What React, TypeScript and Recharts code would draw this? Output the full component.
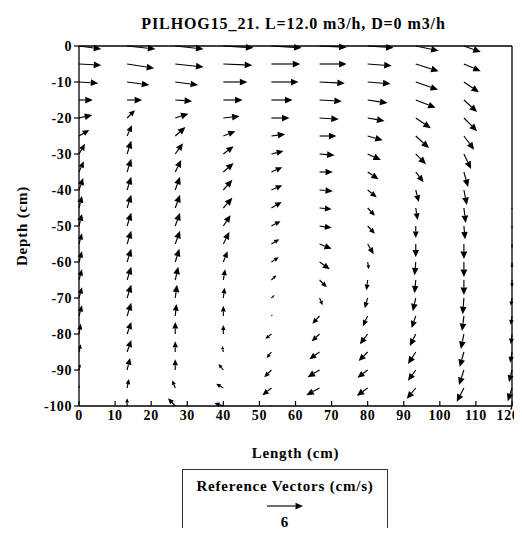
import React from 'react'
import {
  ScatterChart, Scatter, XAxis, YAxis, ReferenceLine, Legend, Label,
} from 'recharts'

// grid of measuring points (cm)
const lengths = [0, 13.33, 26.67, 40, 53.33, 66.67, 80, 93.33, 106.67, 120]
const depths = [0, -5, -10, -15, -20, -25, -30, -35, -40, -45, -50, -55, -60, -65, -70, -75, -80, -85, -90, -95, -100]

// velocity components (cm/s), one array per column, top to bottom
const u0 = [3.7, 3.7, 3.2, 2.3, 2.2, 1.7, 1.0, 0.8, 0.7, 0.5, 0.5, 0.5, 0.5, 0.5, 0.5, 0.5, 0.3, 0.3, 0.2, 0, 0]
const v0 = [-0.5, -0.2, -0.2, 0, 0.5, 1.0, 1.7, 1.8, 2.0, 2.0, 2.0, 1.8, 1.8, 1.8, 1.8, 1.8, 1.7, 1.3, 1.0, 0.5, 0.2]
const u1 = [4.7, 4.5, 3.7, 2.5, 1.3, 0.8, 0.7, 0.7, 0.7, 0.7, 0.7, 0.7, 0.7, 0.7, 0.7, 0.7, 0.7, 0.7, 0.5, 0.3, 0]
const v1 = [-0.5, -0.7, -0.5, 0, 1.3, 1.8, 2.2, 2.2, 2.2, 2.2, 2.2, 2.2, 2.2, 2.2, 2.2, 2.2, 2.0, 2.0, 2.0, 1.5, 1.3]
const u2 = [4.7, 4.7, 3.8, 2.8, 2.2, 1.7, 1.3, 1.0, 0.8, 0.8, 0.8, 0.8, 0.7, 0.5, 0.3, 0.2, 0, 0, 0, -0.5, -1.2]
const v2 = [-0.5, -0.5, -0.5, -0.2, 0.7, 1.5, 1.8, 2.0, 2.2, 2.2, 2.2, 2.2, 2.2, 2.2, 2.2, 2.0, 2.0, 1.8, 1.8, 1.3, 1.3]
const u3 = [5.0, 4.8, 4.0, 3.2, 2.7, 2.0, 1.7, 1.7, 1.5, 1.5, 1.2, 1.0, 0.7, 0.3, 0.2, 0, 0, -0.2, -0.8, -1.2, -1.5]
const v3 = [-0.3, -0.2, 0, 0, 0.3, 0.8, 1.3, 1.5, 1.7, 1.7, 1.8, 2.0, 1.8, 1.8, 1.7, 1.7, 1.5, 1.0, 1.0, 0.7, 0.5]
const u4 = [5.0, 4.8, 4.5, 3.5, 3.0, 2.3, 2.0, 1.8, 1.8, 1.7, 1.5, 1.3, 1.2, 0.8, 0.5, 0.2, -1.0, -0.8, -1.2, -1.5, -0.2]
const v4 = [-0.3, 0, 0, 0, 0, 0.3, 0.5, 0.8, 0.8, 1.0, 0.8, 0.8, 0.8, 0.8, 0.5, 0.2, -0.8, -1.0, -1.2, -1.2, 0]
const u5 = [4.5, 4.5, 4.2, 3.7, 3.2, 2.8, 2.5, 2.2, 2.2, 2.0, 2.0, 2.0, 1.7, 1.2, 0.5, -1.2, -1.3, -1.7, -2.0, -2.2, 0]
const v5 = [-0.2, 0, -0.2, -0.2, -0.2, 0, -0.2, 0, -0.2, -0.2, -0.3, -0.8, -1.2, -1.2, -1.2, -1.3, -1.2, -1.2, -1.2, -1.2, 0]
const u6 = [4.3, 4.0, 3.8, 3.3, 2.8, 2.5, 2.2, 1.8, 1.5, 1.2, 1.2, 1.0, 0.2, -0.2, -0.5, -0.8, -1.3, -1.5, -1.7, -1.8, 0]
const v6 = [-0.3, -0.3, -0.3, -0.5, -0.5, -0.7, -1.0, -1.2, -1.2, -1.3, -1.3, -1.7, -1.2, -1.7, -1.7, -1.7, -1.7, -1.5, -1.3, -1.3, 0]
const u7 = [3.8, 3.8, 3.7, 3.3, 2.5, 2.2, 1.7, 1.3, 0.5, 0.3, 0, 0, -0.2, -0.2, -0.5, -0.7, -1.0, -1.3, -1.3, -1.5, 0]
const v7 = [-0.8, -1.2, -1.3, -1.3, -1.7, -2.0, -1.7, -1.7, -2.0, -2.0, -2.0, -2.2, -2.2, -2.2, -2.2, -2.0, -2.0, -2.0, -1.8, -1.8, 0]
const u8 = [2.8, 2.8, 2.5, 2.2, 2.2, 1.7, 1.2, 0.7, 0.5, 0.3, 0.2, 0, 0, 0, -0.2, -0.3, -0.5, -0.7, -0.8, -1.2, 0]
const v8 = [-1.0, -1.2, -1.7, -2.0, -2.2, -2.3, -2.5, -2.5, -2.5, -2.5, -2.2, -2.5, -2.5, -2.5, -2.7, -2.5, -2.5, -2.5, -2.5, -2.3, 0]
const u9 = [0, 0, 0, 0, 0, 0, 0, 0, 0, 0, 0, 0, 0, 0, -0.2, -0.2, -0.2, -0.3, -0.5, -0.7, -0.2]
const v9 = [0, 0, 0, 0, 0, 0, 0, 0, 0, -0.3, -0.5, -0.7, -1.0, -1.2, -1.3, -1.5, -1.7, -1.8, -2.0, -2.2, -0.7]

const xTicks = [0, 10, 20, 30, 40, 50, 60, 70, 80, 90, 100, 110, 120]
const yTicks = [0, -10, -20, -30, -40, -50, -60, -70, -80, -90, -100]

const refSpeed = 6 // cm/s shown in the key
const cmPerSpeed = 10 / refSpeed // plot length (cm) drawn for 1 cm/s

const uCols = [u0, u1, u2, u3, u4, u5, u6, u7, u8, u9]
const vCols = [v0, v1, v2, v3, v4, v5, v6, v7, v8, v9]

const vectors = lengths
  .flatMap((x, i) => depths.map((y, j) => ({ x, y, u: uCols[i][j], v: vCols[i][j] })))
  .filter(d => d.u !== 0 || d.v !== 0)

const FONT = "'Liberation Serif', 'Times New Roman', serif"
const txt = { fontFamily: FONT, fontWeight: 'bold' as const, fill: '#000' }

function arrowParts(x1: number, y1: number, x2: number, y2: number) {
  const dx = x2 - x1
  const dy = y2 - y1
  const len = Math.hypot(dx, dy)
  if (len < 0.5) return null
  const ux = dx / len
  const uy = dy / len
  const hl = Math.min(7.5, len * 0.55)
  const hw = hl * 0.45
  const bx = x2 - ux * hl
  const by = y2 - uy * hl
  return (
    <g>
      <line x1={x1} y1={y1} x2={bx} y2={by} stroke="#000" strokeWidth={1.15} />
      <polygon
        points={`${x2},${y2} ${bx - uy * hw},${by + ux * hw} ${bx + uy * hw},${by - ux * hw}`}
        fill="#000"
      />
    </g>
  )
}

const ArrowShape = (props: any) => arrowParts(props.x1, props.y1, props.x2, props.y2)

const LeftTick = ({ x, y, payload }: any) => (
  <text x={x} y={y} dy={5} textAnchor="end" fontSize={14} letterSpacing={0.6} {...txt}>
    {payload.value}
  </text>
)

const BottomTick = ({ x, y, payload }: any) => (
  <g>
    <line x1={x} x2={x} y1={y} y2={y - 5} stroke="#000" strokeWidth={1.2} />
    <text
      x={x} y={y + 14} dx={payload.value === 120 ? -4 : 0}
      textAnchor="middle" fontSize={14} letterSpacing={0.6} {...txt}
    >
      {payload.value}
    </text>
  </g>
)

const TopTick = ({ x, y }: any) => (
  <line x1={x} x2={x} y1={y} y2={y - 5} stroke="#000" strokeWidth={1.2} />
)

const RightTick = ({ x, y }: any) => (
  <line x1={x} x2={x - 6} y1={y} y2={y} stroke="#000" strokeWidth={1.2} />
)

const NoDot = () => <g />

const VectorKey = () => (
  <div
    style={{
      width: 206, height: 90, border: '1px solid #333', boxSizing: 'border-box',
      fontFamily: FONT, fontWeight: 'bold', fontSize: 15, letterSpacing: 0.8,
      textAlign: 'center', color: '#000', paddingTop: 8,
    }}
  >
    <div>Reference Vectors (cm/s)</div>
    <svg width={40} height={12} style={{ display: 'block', margin: '5px auto 0' }}>
      {arrowParts(2, 6, 38, 6)}
    </svg>
    <div style={{ marginTop: 2 }}>{refSpeed}</div>
  </div>
)

export default function App() {
  return (
    <div style={{ width: 514, height: 528, overflow: 'hidden', marginBottom: -8, marginRight: -8 }}>
      <ScatterChart
        width={514}
        height={528}
        margin={{ top: 30, right: 6, bottom: 100, left: 21 }}
      >
        <XAxis
          type="number" dataKey="x" domain={[0, 120]} ticks={xTicks} interval={0}
          height={30} tickSize={0} tickMargin={0} tickLine={false}
          axisLine={{ stroke: '#000', strokeWidth: 1.3 }} tick={<BottomTick />}
        >
          <Label
            content={({ viewBox }: any) => (
              <text
                x={viewBox.x + viewBox.width / 2} y={viewBox.y + 52}
                textAnchor="middle" fontSize={15} letterSpacing={0.8} {...txt}
              >
                Length (cm)
              </text>
            )}
          />
        </XAxis>
        <XAxis
          xAxisId="top" orientation="top" type="number" domain={[0, 120]} ticks={xTicks} interval={0}
          height={8} tickSize={0} tickMargin={0} tickLine={false}
          axisLine={{ stroke: '#000', strokeWidth: 1.3 }} tick={<TopTick />}
        >
          <Label
            content={({ viewBox }: any) => (
              <text
                x={viewBox.x + viewBox.width / 2 - 2} y={viewBox.y - 9}
                textAnchor="middle" fontSize={16} letterSpacing={0.9} {...txt}
              >
                PILHOG15_21. L=12.0 m3/h, D=0 m3/h
              </text>
            )}
          />
        </XAxis>
        <YAxis
          type="number" dataKey="y" domain={[-100, 0]} ticks={yTicks} interval={0}
          width={50} tickSize={5} tickMargin={2}
          tickLine={{ stroke: '#000', strokeWidth: 1.2 }}
          axisLine={{ stroke: '#000', strokeWidth: 1.3 }} tick={<LeftTick />}
        >
          <Label
            content={({ viewBox }: any) => {
              const cx = viewBox.x - 2
              const cy = viewBox.y + viewBox.height / 2
              return (
                <text
                  x={cx} y={cy} transform={`rotate(-90 ${cx} ${cy})`}
                  textAnchor="middle" fontSize={15} letterSpacing={0.8} {...txt}
                >
                  Depth (cm)
                </text>
              )
            }}
          />
        </YAxis>
        <YAxis
          yAxisId="right" orientation="right" type="number" domain={[-100, 0]} ticks={yTicks} interval={0}
          width={4} tickSize={0} tickMargin={0} tickLine={false}
          axisLine={{ stroke: '#000', strokeWidth: 1.3 }} tick={<RightTick />}
        />
        <Scatter data={vectors} shape={<NoDot />} isAnimationActive={false} />
        {vectors.map((d, i) => (
          <ReferenceLine
            key={i}
            ifOverflow="visible"
            segment={[
              { x: d.x, y: d.y },
              { x: d.x + d.u * cmPerSpeed, y: d.y + d.v * cmPerSpeed },
            ]}
            shape={ArrowShape}
          />
        ))}
        <Legend
          layout="horizontal" verticalAlign="middle" align="center"
          wrapperStyle={{ left: 174, top: 461, width: 206 }}
          content={() => <VectorKey />}
        />
      </ScatterChart>
    </div>
  )
}
